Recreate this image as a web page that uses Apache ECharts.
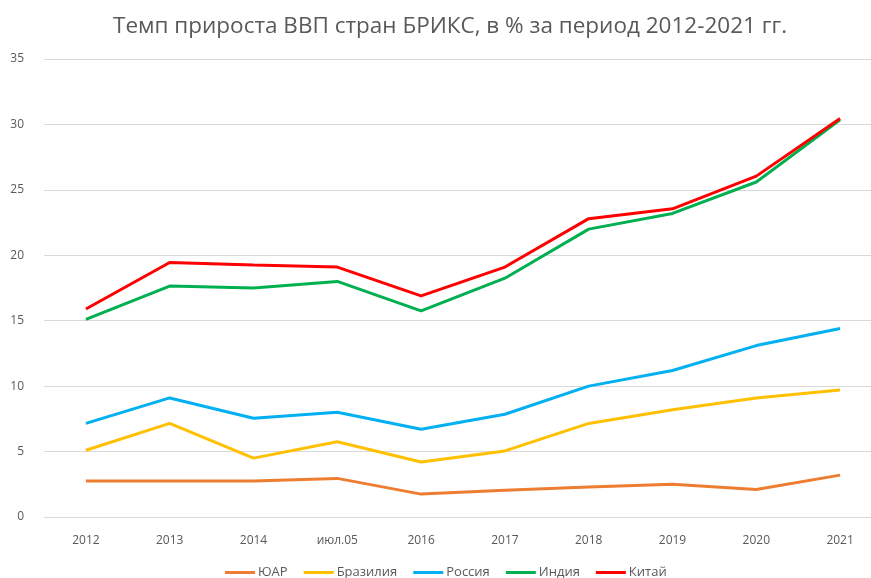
<!DOCTYPE html>
<html>
<head>
<meta charset="utf-8">
<script src="https://cdn.jsdelivr.net/npm/echarts@6/dist/echarts.min.js"></script>
<style>
    html, body { margin: 0; padding: 0; background: #fff; }
    #chart { width: 871px; height: 578px; }
</style>
</head>
<body>
<div id="chart"></div>
<script>
// категории по оси X (как в исходнике, 2015 отображается как "июл.05")
let years = ['2012', '2013', '2014', 'июл.05', '2016', '2017', '2018', '2019', '2020', '2021']
let yTicks = [0, 5, 10, 15, 20, 25, 30, 35]

let saf = [2.75, 2.75, 2.75, 2.95, 1.75, 2.05, 2.3, 2.5, 2.1, 3.2]
let brazil = [5.1, 7.15, 4.5, 5.75, 4.2, 5.05, 7.15, 8.2, 9.1, 9.7]
let russia = [7.15, 9.1, 7.55, 8.0, 6.7, 7.85, 10.0, 11.2, 13.1, 14.4]
let india = [15.1, 17.65, 17.5, 18.0, 15.75, 18.25, 22.0, 23.2, 25.6, 30.35]
let china = [15.9, 19.45, 19.25, 19.1, 16.9, 19.1, 22.8, 23.55, 26.05, 30.45]

let names = ['ЮАР', 'Бразилия', 'Россия', 'Индия', 'Китай']
let colors = ['#ED7D31', '#FFC000', '#00B0F0', '#00B050', '#FF0000']
let values = [saf, brazil, russia, india, china]

let myChart = echarts.init(document.getElementById('chart'))

let font = '"Open Sans", "Noto Sans", sans-serif'

myChart.setOption({
    animation: false,
    textStyle: { fontFamily: font },
    title: {
        text: 'Темп прироста ВВП стран БРИКС, в % за период 2012-2021 гг.',
        left: 108,
        top: 10,
        textStyle: {
            fontFamily: font,
            fontSize: 22.5,
            fontWeight: 'normal',
            color: '#595959'
        }
    },
    legend: {
        data: names,
        top: 561,
        left: 220,
        itemWidth: 30,
        itemHeight: 3,
        itemGap: 16,
        icon: 'rect',
        textStyle: { color: '#595959', fontSize: 13, fontFamily: font, padding: [0, 0, 0, -2] }
    },
    grid: { // отступы области графика (правый край выходит за картинку, как в оригинале)
        left: 44,
        width: 838,
        top: 59,
        bottom: 61,
        outerBoundsMode: 'none'
    },
    xAxis: {
        type: 'category',
        data: years,
        boundaryGap: true,
        axisLine: { show: false },
        axisTick: { show: false },
        axisLabel: { color: '#595959', fontSize: 12, margin: 18 }
    },
    yAxis: {
        type: 'value',
        min: yTicks[0],
        max: yTicks[yTicks.length - 1],
        interval: 5,
        axisLine: { show: false },
        axisTick: { show: false },
        axisLabel: { color: '#595959', fontSize: 12, margin: 20 },
        splitLine: { lineStyle: { color: '#d9d9d9', width: 1 } }
    },
    series: names.map(function (n, i) {
        return {
            name: n,
            type: 'line',
            data: values[i],
            symbol: 'none',
            lineStyle: { color: colors[i], width: 3 },
            itemStyle: { color: colors[i] }
        }
    })
})
</script>
</body>
</html>
